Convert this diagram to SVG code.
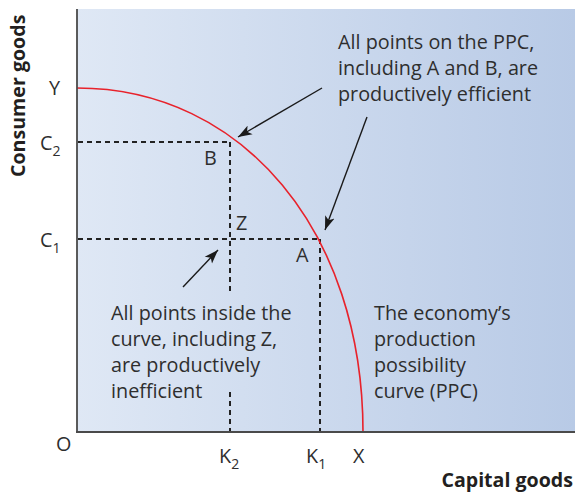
<svg xmlns="http://www.w3.org/2000/svg" width="575" height="495" viewBox="0 0 575 495">
<defs>
<linearGradient id="bg" x1="77" y1="0" x2="575" y2="0" gradientUnits="userSpaceOnUse">
<stop offset="0" stop-color="#dfe8f5"/>
<stop offset="1" stop-color="#b8cae6"/>
</linearGradient>
<marker id="ah" markerUnits="userSpaceOnUse" markerWidth="15" markerHeight="11" refX="14" refY="5.5" orient="auto">
<path d="M0,0.5 L14,5.5 L0,10.5 L3.5,5.5 Z" fill="#1a1a1a"/>
</marker>
</defs>
<style>
.t{font-family:"Open Sans","Noto Sans","Liberation Sans",sans-serif;font-size:19.8px;fill:#2e2e2e}
.b{font-family:"Open Sans","Noto Sans","Liberation Sans",sans-serif;font-size:19.6px;font-weight:bold;fill:#231f20}
.sub{font-size:14px}
.dash{stroke:#222;stroke-width:2;stroke-dasharray:5 4;fill:none}
.arr{stroke:#1a1a1a;stroke-width:1.4;fill:none;marker-end:url(#ah)}
.axis{stroke:#4a4a4a;stroke-width:1.8;fill:none}
</style>
<rect x="77" y="9" width="498" height="423" fill="url(#bg)"/>
<g id="connectors">
<line class="dash" x1="78" y1="142" x2="230" y2="142"/>
<line class="dash" x1="78" y1="239" x2="320" y2="239"/>
<line class="dash" x1="230" y1="142" x2="230" y2="291"/>
<line class="dash" x1="230" y1="392" x2="230" y2="432"/>
<line class="dash" x1="320" y1="239" x2="320" y2="432"/>
<line class="arr" x1="322" y1="88" x2="238" y2="137"/>
<line class="arr" x1="367" y1="117" x2="325" y2="230"/>
<line class="arr" x1="183" y1="287" x2="218" y2="250"/>
</g>
<g id="ppc">
<path d="M77,88 C243,88 363,232 363,432" fill="none" stroke="#e8222b" stroke-width="1.6"/>
</g>
<g id="axes">
<line class="axis" x1="77" y1="9" x2="77" y2="432"/>
<line class="axis" x1="76" y1="432" x2="575" y2="432"/>
</g>
<g id="axis-labels">
<text class="b" transform="translate(25,177) rotate(-90)">Consumer goods</text>
<text class="b" x="573" y="487" text-anchor="end">Capital goods</text>
<text class="t" x="49" y="95">Y</text>
<text class="t" x="40" y="150">C<tspan class="sub" dy="6">2</tspan></text>
<text class="t" x="40" y="247">C<tspan class="sub" dy="6">1</tspan></text>
<text class="t" x="56" y="451">O</text>
<text class="t" x="219" y="463">K<tspan class="sub" dy="6">2</tspan></text>
<text class="t" x="306" y="463">K<tspan class="sub" dy="6">1</tspan></text>
<text class="t" x="353" y="463">X</text>
</g>
<g id="point-B"><text class="t" x="204" y="165">B</text></g>
<g id="point-Z"><text class="t" x="236" y="230">Z</text></g>
<g id="point-A"><text class="t" x="296" y="262">A</text></g>
<g id="note-efficient">
<text class="t" x="338" y="49">All points on the PPC,</text>
<text class="t" x="338" y="75">including A and B, are</text>
<text class="t" x="338" y="101">productively efficient</text>
</g>
<g id="note-inefficient">
<text class="t" x="111" y="320">All points inside the</text>
<text class="t" x="111" y="346">curve, including Z,</text>
<text class="t" x="111" y="372">are productively</text>
<text class="t" x="111" y="398">inefficient</text>
</g>
<g id="note-ppc">
<text class="t" x="374" y="320">The economy’s</text>
<text class="t" x="374" y="346">production</text>
<text class="t" x="374" y="372">possibility</text>
<text class="t" x="374" y="398">curve (PPC)</text>
</g>
</svg>
